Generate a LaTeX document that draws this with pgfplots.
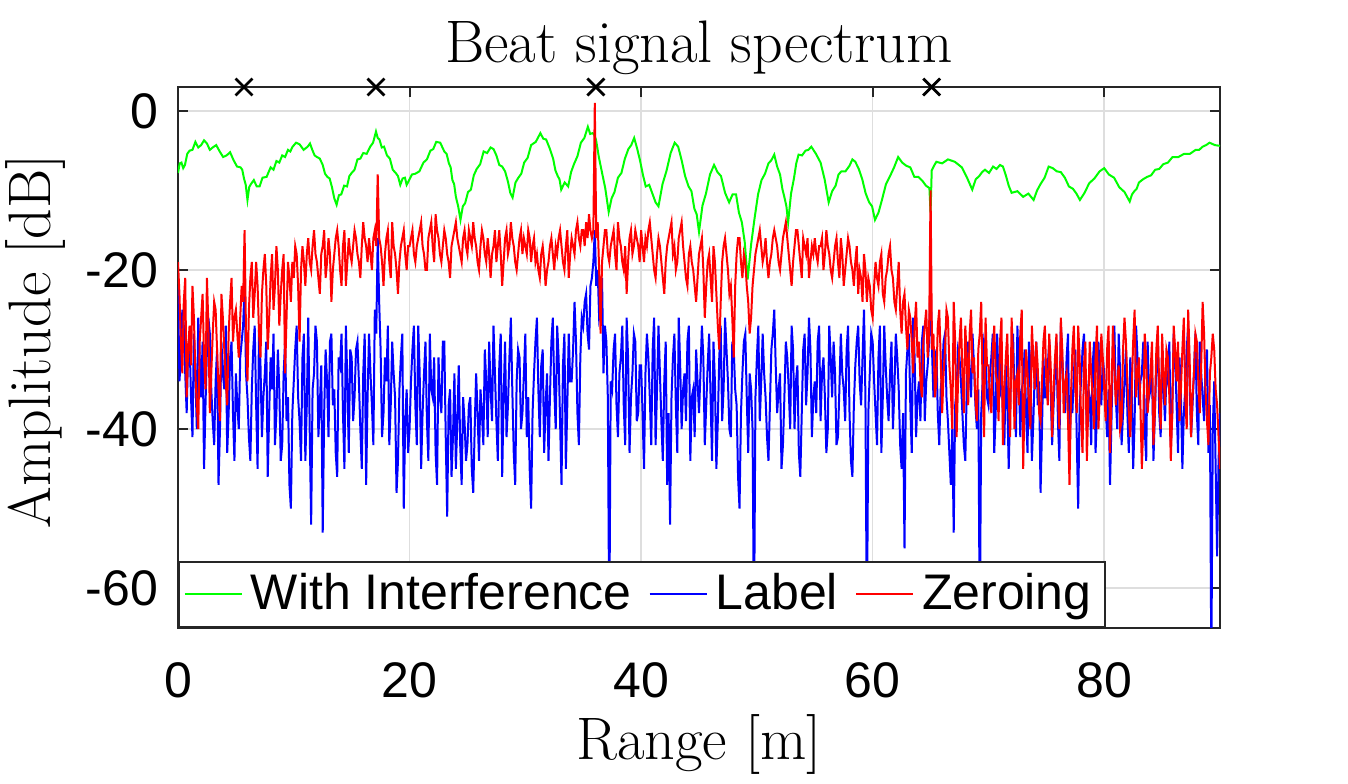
\documentclass[border=0pt]{standalone}
\usepackage{fontspec}
\setsansfont{Liberation Sans}
\usepackage{pgfplots}
\usepackage{pgfplotstable}
\pgfplotsset{compat=1.18}
\definecolor{sgreen}{RGB}{0,255,0}
\definecolor{sblue}{RGB}{0,0,255}
\definecolor{sred}{RGB}{255,0,0}
\definecolor{gridgray}{RGB}{222,222,222}

% samples every 0.125 m, x = index/8
\pgfplotstableread[header=false, row sep=\\]{
-22\\-34\\-31\\-25\\-27\\-33\\-38\\-30\\-29\\-36\\-41\\-28\\-33\\-40\\-26\\-31\\-36\\-29\\-45\\-37\\-30\\-26\\-28\\-35\\-39\\-42\\-34\\-30\\-47\\-40\\-29\\-33\\-35\\-27\\-43\\-38\\-31\\-29\\-38\\-44\\
-33\\-37\\-40\\-31\\-29\\-27\\-22\\-33\\-36\\-41\\-44\\-35\\-30\\-27\\-37\\-45\\-27\\-32\\-41\\-36\\-33\\-29\\-46\\-38\\-31\\-35\\-28\\-42\\-38\\-30\\-35\\-44\\-42\\-33\\-29\\-39\\-36\\-47\\-50\\-38\\
-34\\-30\\-27\\-36\\-39\\-44\\-31\\-28\\-44\\-37\\-26\\-40\\-52\\-35\\-33\\-27\\-29\\-41\\-37\\-32\\-53\\-38\\-30\\-34\\-41\\-29\\-28\\-37\\-35\\-43\\-46\\-31\\-32\\-28\\-38\\-45\\-27\\-34\\-43\\-30\\
-31\\-39\\-36\\-30\\-29\\-34\\-40\\-45\\-33\\-28\\-47\\-36\\-28\\-33\\-37\\-42\\-25\\-28\\-16\\-24\\-30\\-41\\-38\\-31\\-34\\-27\\-42\\-37\\-29\\-33\\-36\\-48\\-44\\-35\\-31\\-28\\-50\\-39\\-35\\-43\\
-40\\-34\\-30\\-27\\-37\\-42\\-27\\-33\\-45\\-38\\-33\\-29\\-39\\-44\\-28\\-35\\-36\\-31\\-43\\-47\\-31\\-36\\-38\\-29\\-29\\-41\\-51\\-37\\-35\\-46\\-41\\-33\\-45\\-39\\-32\\-42\\-47\\-36\\-39\\-44\\
-42\\-37\\-36\\-45\\-48\\-40\\-33\\-38\\-44\\-35\\-38\\-42\\-30\\-34\\-41\\-29\\-35\\-39\\-27\\-33\\-39\\-44\\-32\\-28\\-46\\-36\\-29\\-41\\-37\\-31\\-26\\-35\\-43\\-47\\-34\\-30\\-31\\-40\\-38\\-33\\
-28\\-41\\-36\\-45\\-50\\-38\\-33\\-29\\-26\\-35\\-41\\-32\\-30\\-43\\-37\\-33\\-44\\-36\\-29\\-26\\-35\\-40\\-27\\-31\\-39\\-47\\-32\\-28\\-45\\-37\\-28\\-34\\-34\\-30\\-24\\-29\\-38\\-42\\-31\\-26\\
-27\\-24\\-23\\-28\\-30\\-22\\-21\\-19\\-15\\-22\\-20\\-26\\-25\\-21\\-33\\-27\\-29\\-36\\-66\\-34\\-35\\-30\\-28\\-37\\-41\\-33\\-31\\-27\\-37\\-42\\-26\\-31\\-43\\-36\\-33\\-28\\-29\\-39\\-38\\-32\\
-32\\-38\\-45\\-33\\-28\\-31\\-36\\-42\\-30\\-26\\-42\\-35\\-27\\-33\\-39\\-44\\-34\\-29\\-47\\-38\\-52\\-36\\-31\\-28\\-37\\-43\\-26\\-32\\-40\\-35\\-33\\-39\\-29\\-27\\-44\\-36\\-35\\-41\\-30\\-34\\
-38\\-33\\-27\\-31\\-42\\-37\\-32\\-28\\-36\\-44\\-29\\-34\\-45\\-39\\-31\\-27\\-39\\-35\\-26\\-30\\-34\\-40\\-41\\-29\\-30\\-35\\-37\\-46\\-50\\-38\\-33\\-29\\-28\\-36\\-43\\-33\\-35\\-40\\-66\\-36\\
-31\\-27\\-39\\-34\\-28\\-33\\-36\\-41\\-44\\-37\\-30\\-28\\-25\\-32\\-38\\-35\\-33\\-45\\-42\\-36\\-29\\-31\\-35\\-40\\-27\\-30\\-40\\-34\\-32\\-43\\-46\\-38\\-30\\-28\\-37\\-33\\-26\\-30\\-41\\-36\\
-34\\-38\\-29\\-27\\-39\\-33\\-31\\-36\\-43\\-40\\-27\\-31\\-36\\-29\\-33\\-42\\-41\\-35\\-28\\-33\\-35\\-39\\-30\\-27\\-38\\-44\\-46\\-37\\-32\\-29\\-27\\-34\\-37\\-31\\-25\\-36\\-66\\-38\\-33\\-28\\
-29\\-34\\-38\\-42\\-31\\-27\\-43\\-36\\-27\\-32\\-36\\-39\\-33\\-29\\-40\\-35\\-28\\-31\\-35\\-42\\-45\\-38\\-55\\-33\\-30\\-28\\-37\\-43\\-26\\-31\\-41\\-36\\-34\\-39\\-29\\-27\\-39\\-34\\-32\\-29\\
-21\\-30\\-36\\-33\\-30\\-38\\-42\\-35\\-33\\-29\\-28\\-36\\-39\\-43\\-47\\-40\\-53\\-37\\-35\\-30\\-31\\-34\\-38\\-42\\-44\\-35\\-29\\-33\\-36\\-28\\-32\\-37\\-40\\-35\\-66\\-38\\-34\\-29\\-30\\-36\\
-37\\-33\\-31\\-28\\-43\\-38\\-28\\-34\\-35\\-30\\-39\\-42\\-32\\-36\\-45\\-37\\-30\\-28\\-36\\-41\\-27\\-33\\-41\\-35\\-34\\-30\\-38\\-43\\-29\\-32\\-44\\-39\\-33\\-29\\-37\\-34\\-48\\-40\\-31\\-36\\
-36\\-32\\-29\\-35\\-42\\-37\\-33\\-29\\-39\\-44\\-27\\-31\\-35\\-38\\-31\\-28\\-44\\-36\\-38\\-33\\-30\\-41\\-50\\-37\\-34\\-30\\-28\\-33\\-40\\-35\\-36\\-42\\-32\\-29\\-43\\-38\\-29\\-34\\-37\\-31\\
-33\\-37\\-41\\-35\\-47\\-39\\-30\\-27\\-36\\-40\\-28\\-33\\-42\\-38\\-34\\-30\\-38\\-43\\-31\\-35\\-45\\-39\\-27\\-31\\-37\\-34\\-33\\-29\\-40\\-44\\-29\\-36\\-35\\-32\\-44\\-38\\-32\\-28\\-38\\-41\\
-30\\-35\\-39\\-33\\-34\\-29\\-42\\-38\\-28\\-31\\-37\\-43\\-31\\-36\\-45\\-38\\-35\\-30\\-27\\-34\\-41\\-37\\-33\\-28\\-38\\-42\\-29\\-33\\-36\\-39\\-32\\-30\\-43\\-37\\-70\\-40\\-34\\-45\\-56\\-44\\
-38\\
}\labeldata

\pgfplotstableread[header=false, row sep=\\]{
-19\\-23\\-29\\-33\\-24\\-21\\-36\\-30\\-27\\-32\\-22\\-26\\-33\\-37\\-40\\-29\\-26\\-23\\-31\\-35\\-21\\-27\\-38\\-33\\-28\\-24\\-25\\-30\\-35\\-39\\-23\\-26\\-30\\-34\\-37\\-28\\-24\\-21\\-29\\-26\\
-25\\-28\\-31\\-26\\-22\\-24\\-15\\-28\\-34\\-25\\-21\\-19\\-26\\-23\\-19\\-22\\-28\\-31\\-23\\-20\\-18\\-22\\-30\\-26\\-21\\-18\\-25\\-22\\-17\\-20\\-27\\-23\\-20\\-18\\-33\\-26\\-19\\-21\\-24\\-19\\
-21\\-17\\-18\\-22\\-29\\-20\\-17\\-19\\-22\\-18\\-16\\-19\\-20\\-17\\-15\\-18\\-19\\-21\\-23\\-18\\-17\\-15\\-21\\-19\\-16\\-18\\-24\\-20\\-18\\-16\\-15\\-17\\-20\\-22\\-17\\-15\\-22\\-19\\-16\\-18\\
-19\\-17\\-15\\-16\\-18\\-19\\-21\\-17\\-14\\-16\\-17\\-19\\-16\\-18\\-20\\-16\\-15\\-17\\-8\\-16\\-17\\-19\\-22\\-18\\-16\\-15\\-19\\-21\\-14\\-17\\-18\\-20\\-23\\-19\\-17\\-16\\-15\\-18\\-20\\-17\\
-17\\-16\\-15\\-18\\-19\\-17\\-16\\-15\\-14\\-17\\-18\\-20\\-20\\-16\\-15\\-14\\-17\\-19\\-13\\-15\\-16\\-18\\-19\\-17\\-15\\-16\\-18\\-19\\-21\\-17\\-16\\-15\\-14\\-16\\-17\\-18\\-19\\-16\\-15\\-17\\
-18\\-15\\-16\\-17\\-14\\-16\\-17\\-19\\-20\\-17\\-15\\-16\\-18\\-19\\-16\\-18\\-21\\-18\\-17\\-15\\-19\\-17\\-15\\-18\\-22\\-19\\-16\\-15\\-18\\-17\\-14\\-16\\-17\\-19\\-20\\-18\\-16\\-15\\-18\\-16\\
-17\\-18\\-15\\-16\\-19\\-17\\-16\\-19\\-18\\-20\\-21\\-18\\-17\\-19\\-22\\-20\\-19\\-17\\-16\\-18\\-20\\-17\\-18\\-16\\-15\\-17\\-19\\-20\\-17\\-15\\-21\\-18\\-16\\-17\\-18\\-15\\-14\\-16\\-17\\-15\\
-15\\-17\\-14\\-16\\-13\\-15\\-16\\-15\\1\\-16\\-14\\-20\\-28\\-19\\-17\\-15\\-15\\-18\\-19\\-17\\-16\\-15\\-18\\-20\\-14\\-16\\-17\\-19\\-20\\-17\\-23\\-19\\-16\\-15\\-18\\-17\\-15\\-16\\-17\\-19\\
-15\\-17\\-19\\-16\\-17\\-15\\-14\\-16\\-18\\-20\\-21\\-18\\-16\\-17\\-19\\-21\\-23\\-19\\-17\\-16\\-15\\-14\\-18\\-17\\-20\\-19\\-16\\-15\\-14\\-17\\-19\\-21\\-22\\-18\\-17\\-19\\-20\\-22\\-24\\-21\\
-18\\-17\\-16\\-20\\-26\\-22\\-19\\-18\\-21\\-24\\-17\\-19\\-23\\-27\\-30\\-24\\-19\\-17\\-16\\-18\\-20\\-23\\-22\\-26\\-31\\-22\\-18\\-16\\-16\\-19\\-21\\-18\\-19\\-22\\-24\\-28\\-26\\-22\\-20\\-18\\
-17\\-16\\-15\\-17\\-19\\-18\\-16\\-19\\-21\\-19\\-18\\-16\\-15\\-16\\-17\\-19\\-20\\-18\\-16\\-15\\-14\\-16\\-18\\-20\\-22\\-19\\-17\\-15\\-15\\-17\\-19\\-21\\-16\\-17\\-18\\-16\\-21\\-19\\-17\\-18\\
-16\\-18\\-19\\-17\\-17\\-16\\-20\\-18\\-15\\-17\\-18\\-20\\-21\\-19\\-17\\-16\\-19\\-21\\-16\\-18\\-22\\-20\\-18\\-16\\-17\\-19\\-20\\-22\\-19\\-17\\-23\\-20\\-21\\-24\\-18\\-20\\-24\\-21\\-22\\-25\\
-26\\-22\\-19\\-21\\-22\\-19\\-18\\-23\\-24\\-21\\-20\\-18\\-17\\-20\\-21\\-24\\-25\\-22\\-19\\-25\\-28\\-24\\-23\\-27\\-30\\-25\\-26\\-29\\-33\\-27\\-24\\-31\\-29\\-34\\-36\\-29\\-27\\-25\\-31\\-28\\
-10\\-30\\-28\\-36\\-34\\-27\\-25\\-31\\-38\\-33\\-30\\-25\\-26\\-32\\-35\\-40\\-24\\-29\\-41\\-34\\-29\\-26\\-33\\-38\\-27\\-31\\-37\\-28\\-25\\-33\\-31\\-36\\-39\\-30\\-28\\-24\\-35\\-41\\-26\\-32\\
-32\\-36\\-38\\-30\\-27\\-33\\-34\\-39\\-29\\-26\\-42\\-35\\-31\\-28\\-36\\-41\\-26\\-31\\-40\\-34\\-33\\-37\\-28\\-25\\-45\\-36\\-30\\-33\\-37\\-40\\-27\\-31\\-35\\-29\\-32\\-38\\-39\\-34\\-29\\-27\\
-34\\-37\\-28\\-32\\-41\\-35\\-31\\-28\\-36\\-40\\-26\\-30\\-38\\-34\\-33\\-39\\-47\\-36\\-30\\-27\\-35\\-38\\-27\\-31\\-39\\-43\\-32\\-29\\-44\\-37\\-29\\-33\\-36\\-40\\-31\\-27\\-40\\-35\\-28\\-31\\
-35\\-39\\-30\\-27\\-43\\-36\\-27\\-32\\-37\\-34\\-32\\-40\\-39\\-30\\-26\\-29\\-34\\-38\\-41\\-35\\-29\\-25\\-36\\-33\\-31\\-37\\-45\\-39\\-28\\-31\\-38\\-35\\-33\\-29\\-42\\-38\\-30\\-27\\-35\\-40\\
-28\\-33\\-37\\-30\\-31\\-36\\-44\\-38\\-27\\-30\\-34\\-29\\-39\\-35\\-30\\-26\\-36\\-40\\-25\\-31\\-41\\-36\\-33\\-28\\-29\\-34\\-38\\-32\\-24\\-28\\-35\\-39\\-42\\-33\\-31\\-28\\-30\\-35\\-37\\-41\\
-45\\
}\zeroingdata

\begin{document}
\begin{tikzpicture}
\begin{axis}[
    scale only axis,
    width=260.5pt, height=135.25pt,
    xmin=0, xmax=90, ymin=-65, ymax=3,
    xtick={0,20,40,60,80}, ytick={-60,-40,-20,0},
    tick align=inside, major tick length=2.5pt,
    tick style={black!85, line width=0.5pt},
    axis line style={black!85, line width=0.6pt},
    grid=major, grid style={gridgray, line width=0.4pt},
    /pgf/number format/assume math mode=true,
    ticklabel style={font=\sffamily\fontsize{12.5}{15}\selectfont},
    yticklabel style={inner sep=0pt, xshift=-4.75pt},
    xticklabel style={inner sep=0pt, yshift=-8.5pt},
    title={Beat signal spectrum},
    title style={font=\fontsize{15}{18}\selectfont, at={(0.5,1)}, anchor=base, yshift=0.25pt},
    xlabel={Range [m]},
    xlabel style={font=\fontsize{15}{18}\selectfont, at={(0.5,0)}, anchor=base, yshift=-33pt},
    ylabel={Amplitude [dB]},
    ylabel style={font=\fontsize{15}{18}\selectfont, at={(-0.122,0.53)}, anchor=base},
    legend columns=-1,
    legend style={at={(0,0)}, anchor=south west, draw=black!85, line width=0.5pt,
        fill=white, font=\sffamily\fontsize{12.5}{15}\selectfont,
        inner xsep=1.25pt, inner ysep=0.9pt,
        cells={inner xsep=1.25pt, inner ysep=2pt},
        /tikz/every even column/.append style={column sep=2.25pt}},
    legend image code/.code={\draw[#1, line width=0.5pt] (0pt,0pt) -- (14.25pt,0pt);},
]
\addplot[sgreen, line width=0.5pt] coordinates {
(0,-7.8)(0.15,-6.6)(0.3,-6.5)(0.45,-7.2)(0.6,-6.8)(0.8,-5.4)(1,-5)(1.25,-4.9)(1.5,-3.9)(1.75,-4.6)
(2,-4.3)(2.25,-3.7)(2.5,-4.1)(2.75,-4.9)(3,-4.6)(3.3,-4.3)(3.6,-5.1)(3.9,-5.8)(4.2,-5.6)(4.5,-5.2)
(4.8,-6.2)(5.1,-7.0)(5.4,-7.1)(5.55,-7.4)(5.7,-8.5)(5.85,-9.3)(6.0,-11.2)(6.15,-9.6)(6.3,-9.2)(6.55,-8.7)
(6.8,-9.5)(7.05,-9.5)(7.3,-8.4)(7.65,-8.3)(8.0,-7.1)(8.25,-7.4)(8.5,-6.3)(8.75,-6.5)(9.0,-5.6)(9.25,-5.8)
(9.5,-4.9)(9.7,-5.1)(9.9,-4.5)(10.2,-4.0)(10.5,-4.2)(10.85,-4.9)(11.2,-4.5)(11.4,-4.1)(11.6,-4.9)(11.8,-5.6)
(12.0,-5.8)(12.25,-6.0)(12.5,-6.8)(12.7,-7.9)(12.9,-8.3)(13.1,-8.5)(13.3,-9.6)(13.5,-11.0)(13.7,-11.8)(13.9,-10.6)
(14.1,-10.5)(14.35,-9.4)(14.6,-9.5)(14.8,-8.2)(15.0,-7.8)(15.25,-7.4)(15.5,-6.1)(15.75,-6.0)(16.0,-5.3)(16.3,-5.4)
(16.6,-4.5)(16.85,-4.0)(17.1,-2.6)(17.25,-3.4)(17.4,-3.6)(17.6,-4.6)(17.8,-4.5)(18.05,-5.6)(18.3,-6.0)(18.55,-7.4)
(18.8,-7.8)(19.0,-8.2)(19.2,-9.3)(19.4,-8.5)(19.6,-8.4)(19.75,-9.3)(19.9,-8.9)(20.2,-8.0)(20.5,-7.9)(20.85,-7.6)
(21.2,-6.5)(21.5,-6.1)(21.8,-5.0)(22.05,-4.8)(22.3,-3.9)(22.65,-4.0)(23.0,-5.1)(23.2,-5.4)(23.4,-6.6)(23.55,-7.1)
(23.7,-8.7)(23.85,-9.2)(24.0,-10.8)(24.2,-12.0)(24.4,-13.7)(24.6,-12.0)(24.8,-11.6)(25.05,-10.2)(25.3,-9.9)(25.55,-8.1)
(25.8,-7.3)(26.1,-6.7)(26.4,-5.1)(26.7,-5.3)(27.0,-4.6)(27.25,-4.8)(27.5,-5.6)(27.75,-6.8)(28.0,-7.0)(28.25,-7.6)
(28.5,-8.9)(28.7,-10.3)(28.9,-10.9)(29.15,-9.0)(29.4,-8.4)(29.65,-7.9)(29.9,-6.5)(30.2,-5.9)(30.5,-4.3)(30.9,-3.9)
(31.3,-2.8)(31.55,-3.5)(31.8,-3.6)(32.1,-4.7)(32.4,-6.0)(32.6,-7.5)(32.8,-8.2)(32.95,-8.6)(33.1,-9.9)(33.4,-9.0)
(33.7,-9.5)(33.95,-7.7)(34.2,-6.7)(34.5,-5.7)(34.8,-4.0)(35.1,-3.4)(35.4,-2.0)(35.6,-2.9)(35.8,-2.8)(35.95,-3.0)
(36.1,-3.6)(36.35,-5.8)(36.6,-7.6)(36.9,-9.7)(37.2,-12.7)(37.45,-11.0)(37.7,-10.2)(38.0,-8.4)(38.3,-7.8)(38.6,-6.0)
(38.9,-4.8)(39.15,-4.3)(39.4,-3.4)(39.65,-4.7)(39.9,-6.2)(40.15,-8.0)(40.4,-9.5)(40.7,-9.3)(41.0,-10.5)(41.25,-11.5)
(41.5,-12.0)(41.85,-9.2)(42.2,-7.5)(42.55,-5.3)(42.9,-4.0)(43.2,-4.5)(43.5,-6.2)(43.8,-8.2)(44.1,-9.5)(44.35,-10.1)
(44.6,-12.3)(44.8,-13.0)(45.0,-15.2)(45.3,-11.9)(45.6,-10.4)(45.95,-8.0)(46.3,-6.8)(46.6,-7.7)(46.9,-8.2)(47.25,-10.3)
(47.6,-11.5)(47.9,-10.5)(48.2,-10.5)(48.45,-12.8)(48.7,-14.0)(48.95,-16.5)(49.2,-21.2)(49.5,-16.8)(49.8,-13.5)(50.1,-10.5)
(50.4,-8.7)(50.7,-7.9)(51.0,-6.6)(51.25,-6.2)(51.5,-5.5)(51.75,-7.0)(52.0,-8.0)(52.2,-9.8)(52.4,-11.0)(52.55,-12.0)
(52.7,-14.0)(52.95,-10.4)(53.2,-8.5)(53.4,-6.6)(53.6,-5.5)(53.9,-5.6)(54.2,-5.0)(54.45,-4.9)(54.7,-4.5)(55.1,-5.4)
(55.5,-6.5)(55.85,-8.6)(56.2,-11.5)(56.5,-10.1)(56.8,-9.4)(57.05,-8.0)(57.3,-7.6)(57.65,-7.6)(58.0,-6.9)(58.25,-6.1)
(58.5,-6.4)(58.8,-7.3)(59.1,-8.6)(59.4,-10.4)(59.7,-11.5)(59.95,-12.0)(60.2,-13.7)(60.5,-12.8)(60.8,-11.2)(61.15,-9.2)
(61.5,-8.2)(61.85,-7.1)(62.2,-5.8)(62.55,-6.5)(62.9,-6.9)(63.25,-7.1)(63.6,-8.3)(63.95,-8.3)(64.3,-8.8)(64.6,-9.4)
(64.9,-9.7)(65.0,-12.8)(65.1,-7.5)(65.3,-6.9)(65.5,-6.4)(66.0,-6.6)(66.5,-6.1)(67.1,-6.4)(67.7,-7.1)(68.15,-8.4)
(68.6,-9.9)(68.9,-8.6)(69.2,-8.2)(69.45,-7.7)(69.7,-7.4)(70.05,-7.8)(70.4,-7.0)(70.7,-7.3)(71.0,-6.8)(71.25,-7.0)
(71.5,-8.1)(71.75,-9.4)(72.0,-10.3)(72.5,-10.1)(73.0,-10.8)(73.45,-10.4)(73.9,-11.2)(74.2,-10.0)(74.5,-9.2)(74.85,-8.4)
(75.2,-7.0)(75.55,-7.2)(75.9,-7.6)(76.25,-7.7)(76.6,-8.4)(76.95,-9.5)(77.3,-9.8)(77.6,-10.4)(77.9,-11.2)(78.3,-10.3)
(78.7,-9.1)(79.15,-8.5)(79.6,-7.6)(80.0,-7.2)(80.4,-8.0)(80.85,-8.4)(81.3,-9.6)(81.75,-10.2)(82.2,-11.4)(82.4,-10.5)
(82.6,-10.1)(82.8,-9.8)(83.0,-9.0)(83.35,-8.6)(83.7,-8.3)(84.05,-8.1)(84.4,-7.4)(84.75,-7.3)(85.1,-6.7)(85.5,-6.5)
(85.9,-5.8)(86.4,-5.8)(86.9,-5.4)(87.4,-5.4)(87.9,-4.9)(88.2,-4.9)(88.5,-4.5)(88.8,-4.3)(89.1,-4.0)(89.55,-4.3)
(90,-4.4)
};
\addlegendentry{With Interference}
\addplot[sblue, line width=0.5pt] table[x expr=\coordindex*0.125, y index=0] {\labeldata};
\addlegendentry{Label}
\addplot[sred, line width=0.5pt] table[x expr=\coordindex*0.125, y index=0] {\zeroingdata};
\addlegendentry{Zeroing}
\addplot[only marks, mark=x, mark size=3pt, black, line width=0.7pt, forget plot]
    coordinates {(5.7,3)(17.1,3)(36.1,3)(65.1,3)};
\end{axis}
\pgfresetboundingbox
\path[use as bounding box] ([shift={(-44.5pt,-39pt)}]current axis.south west)
    rectangle ([shift={(32pt,21.75pt)}]current axis.north east);
\end{tikzpicture}
\end{document}
